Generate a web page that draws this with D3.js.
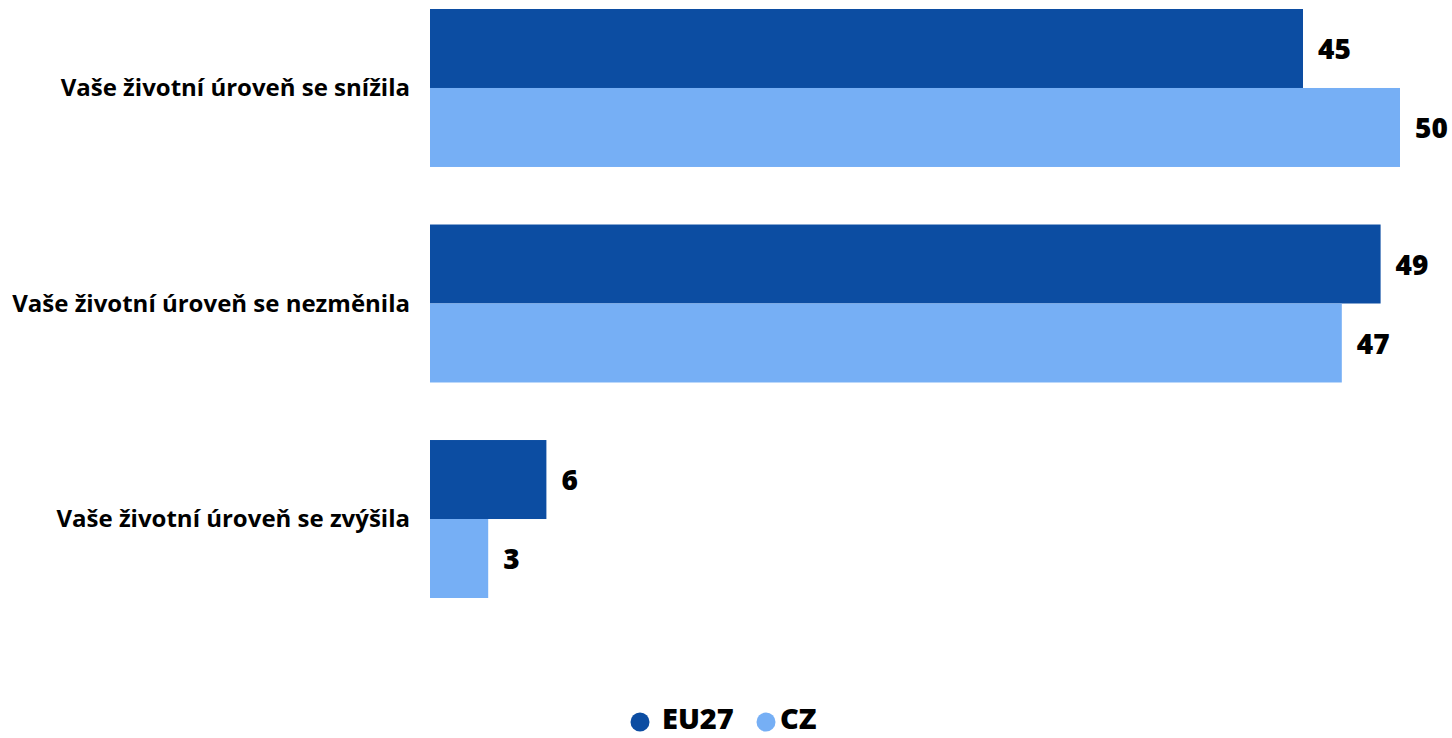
<!DOCTYPE html>
<html>
<head>
<meta charset="utf-8">
<script src="https://cdn.jsdelivr.net/npm/d3@7"></script>
<style>
  html, body { margin: 0; padding: 0; background: #fff; }
  svg { display: block; font-family: "Open Sans", "Noto Sans", sans-serif; }
</style>
</head>
<body>
<svg id="chart" width="1452" height="738"></svg>
<script>
// Categories and series values
const categories = [
  "Vaše životní úroveň se snížila",
  "Vaše životní úroveň se nezměnila",
  "Vaše životní úroveň se zvýšila"
];
const seriesNames = ["EU27", "CZ"];
const eu27 = [45, 49, 6];
const cz = [50, 47, 3];
const seriesColors = ["#0c4da2", "#76aff5"];

const svg = d3.select("#chart");

const rows = categories.map((c, i) => ({ category: c, values: [eu27[i], cz[i]] }));

const x = d3.scaleLinear().domain([0, 50]).range([430, 1400]);
const y = d3.scaleBand().domain(categories).range([9, 598]).paddingInner(0.267).paddingOuter(0);
const ySub = d3.scaleBand().domain(seriesNames).range([0, y.bandwidth()]);

const groups = svg.selectAll("g.group")
  .data(rows)
  .join("g")
  .attr("class", "group")
  .attr("transform", d => `translate(0,${y(d.category)})`);

groups.selectAll("rect")
  .data(d => d.values.map((v, k) => ({ key: seriesNames[k], value: v, k })))
  .join("rect")
  .attr("x", x(0))
  .attr("y", d => ySub(d.key))
  .attr("width", d => x(d.value) - x(0))
  .attr("height", ySub.bandwidth())
  .attr("fill", d => seriesColors[d.k]);

groups.selectAll("text.value")
  .data(d => d.values.map((v, k) => ({ key: seriesNames[k], value: v })))
  .join("text")
  .attr("class", "value")
  .attr("x", d => x(d.value) + 15)
  .attr("y", d => ySub(d.key) + ySub.bandwidth() / 2 + 1)
  .attr("dy", "0.35em")
  .attr("font-size", 28)
  .attr("font-weight", 800)
  .attr("fill", "#000")
  .text(d => d.value);

// Category labels, right-aligned left of the bars
svg.selectAll("text.cat")
  .data(categories)
  .join("text")
  .attr("class", "cat")
  .attr("x", 410)
  .attr("y", d => y(d) + y.bandwidth() / 2)
  .attr("dy", "0.35em")
  .attr("text-anchor", "end")
  .attr("font-size", 24)
  .attr("font-weight", 700)
  .attr("fill", "#000")
  .text(d => d);

// Legend
const legendItems = [
  { name: "EU27", cx: 640, tx: 662 },
  { name: "CZ", cx: 766, tx: 780 }
];
const legend = svg.append("g").attr("class", "legend");
legend.selectAll("circle")
  .data(legendItems)
  .join("circle")
  .attr("cx", d => d.cx)
  .attr("cy", 722)
  .attr("r", 9.5)
  .attr("fill", (d, i) => seriesColors[i]);
legend.selectAll("text")
  .data(legendItems)
  .join("text")
  .attr("x", d => d.tx)
  .attr("y", 729)
  .attr("font-size", 29)
  .attr("font-weight", 800)
  .attr("fill", "#000")
  .text(d => d.name);
</script>
</body>
</html>
